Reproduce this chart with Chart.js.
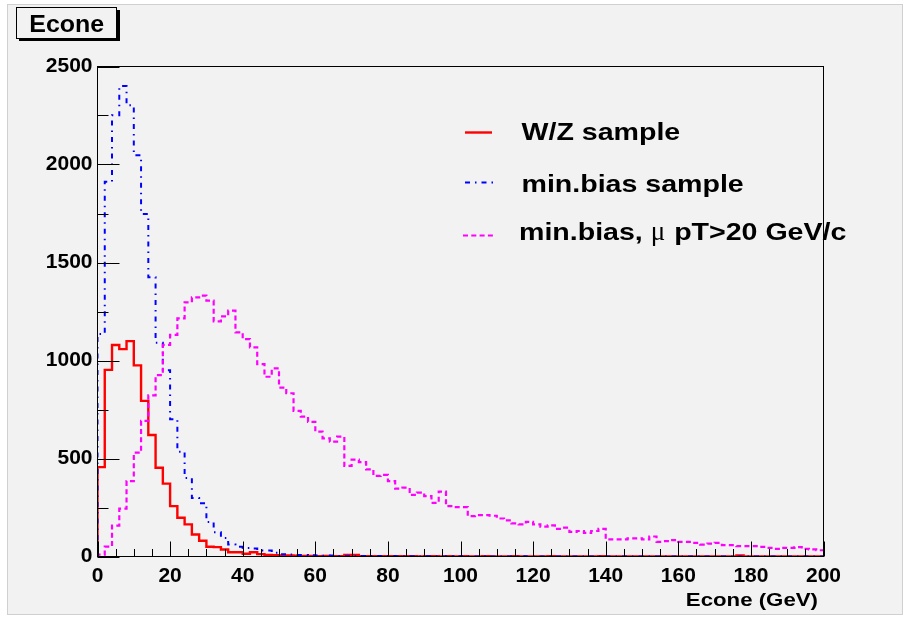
<!DOCTYPE html>
<html><head><meta charset="utf-8">
<script src="https://cdn.jsdelivr.net/npm/chart.js@4.4.1/dist/chart.umd.min.js"></script>
<style>html,body{margin:0;padding:0;background:#fff;}canvas{display:block;}</style>
</head><body>
<canvas id="c" width="906" height="618"></canvas>
<script>
// Bin lower edges (GeV), 2 GeV bins
const binLow = [0,2,4,6,8,10,12,14,16,18,20,22,24,26,28,30,32,34,36,38,
40,42,44,46,48,50,52,54,56,58,60,62,64,66,68,70,72,74,76,78,
80,82,84,86,88,90,92,94,96,98,100,102,104,106,108,110,112,114,116,118,
120,122,124,126,128,130,132,134,136,138,140,142,144,146,148,150,152,154,156,158,
160,162,164,166,168,170,172,174,176,178,180,182,184,186,188,190,192,194,196,198];
const xMaxEdge = 200;

const wzSample = [456,952,1079,1058,1099,975,794,620,453,372,
257,198,164,112,80,50,48,36,22,22,
14,22,12,8,6,5,5,4,3,3,
2,3,2,2,8,8,2,1,2,1,
1,2,1,1,0,1,1,0,1,0,
1,0,0,1,0,0,0,1,0,0,
0,0,1,0,0,0,0,0,0,1,
0,0,0,0,0,0,0,0,0,0,
0,0,0,0,0,0,0,0,5,0,
0,0,0,0,0,0,0,0,0,0];

const minBias = [1135,1912,2251,2400,2302,2047,1748,1425,1090,950,
700,535,400,298,272,176,124,95,61,50,
44,41,31,31,19,12,10,8,8,6,
5,4,5,3,3,2,3,2,2,1,
2,1,1,1,0,1,1,0,1,0,
1,0,0,1,0,0,0,0,1,0,
0,0,0,0,0,0,0,0,0,0,
0,0,0,0,0,0,0,0,0,0,
0,0,0,0,0,0,0,0,0,0,
0,0,0,0,0,0,0,0,0,0];

const minBiasMu = [10,50,158,244,385,530,692,822,925,1080,
1131,1215,1297,1322,1331,1305,1200,1225,1254,1144,
1109,1067,982,917,960,862,833,743,714,687,
637,603,586,612,462,494,482,445,411,416,
385,346,351,314,326,308,274,331,257,252,
252,206,211,211,208,194,184,169,164,177,
164,152,159,141,147,126,130,121,130,141,
87,87,87,92,92,87,102,75,78,84,
75,75,70,61,66,70,58,58,53,53,
53,49,44,39,44,44,48,39,36,32];

const xTicks = [0,20,40,60,80,100,120,140,160,180,200];
const yTicks = [0,500,1000,1500,2000,2500];

const seriesNames = ['W/Z sample','min.bias sample','min.bias, ','\u03bc',' pT>20 GeV/c'];

function steps(vals){
  const pts=[{x:binLow[0],y:0}];
  vals.forEach((v,i)=>pts.push({x:binLow[i],y:v}));
  pts.push({x:xMaxEdge,y:vals[vals.length-1]});
  return pts;
}

const BG='#f2f2f2';
const L=97.5,T=66.5,R=823.5,B=556.5;

function stretchText(ctx,txt,x,y,font,sx,align){
  ctx.save();ctx.font=font;ctx.translate(x,y);ctx.scale(sx,1);
  ctx.textAlign=align||'left';ctx.textBaseline='alphabetic';ctx.fillStyle='#000';
  ctx.fillText(txt,0,0);
  const w=ctx.measureText(txt).width*sx;ctx.restore();return w;
}

const rootPlugin={
  id:'rootStyle',
  beforeDraw(chart){
    const ctx=chart.ctx;
    ctx.save();
    ctx.fillStyle='#ffffff';ctx.fillRect(0,0,906,618);
    ctx.fillStyle=BG;ctx.fillRect(7,4,896,611);
    ctx.strokeStyle='#d0d0d0';ctx.lineWidth=1;ctx.strokeRect(7.5,4.5,895,610);
    ctx.restore();
  },
  afterDatasetsDraw(chart){
    const ctx=chart.ctx, xs=chart.scales.x, ys=chart.scales.y;
    const a=chart.chartArea;
    ctx.save();
    ctx.strokeStyle='#000';ctx.lineWidth=1;
    ctx.strokeRect(a.left,a.top,a.right-a.left,a.bottom-a.top);
    ctx.beginPath();
    for(let i=0;i<yTicks.length;i++){
      const p=Math.round(ys.getPixelForValue(yTicks[i]))+0.5;
      ctx.moveTo(a.left,p);ctx.lineTo(a.left+22,p);
      if(i<yTicks.length-1){
        const m=Math.round(ys.getPixelForValue((yTicks[i]+yTicks[i+1])/2))+0.5;
        ctx.moveTo(a.left,m);ctx.lineTo(a.left+11,m);
      }
    }
    for(let i=0;i<xTicks.length;i++){
      const p=Math.round(xs.getPixelForValue(xTicks[i]))+0.5;
      ctx.moveTo(p,a.bottom);ctx.lineTo(p,a.bottom-15);
      if(i<xTicks.length-1){
        for(let k=1;k<4;k++){
          const m=Math.round(xs.getPixelForValue(xTicks[i]+(xTicks[i+1]-xTicks[i])*k/4))+0.5;
          ctx.moveTo(m,a.bottom);ctx.lineTo(m,a.bottom-7.5);
        }
      }
    }
    ctx.stroke();
    ctx.restore();
  },
  afterDraw(chart){
    const ctx=chart.ctx;
    ctx.save();
    ctx.fillStyle='#000';
    ctx.fillRect(19,38,101,3);
    ctx.fillRect(117,10,3,31);
    ctx.fillStyle=BG;ctx.fillRect(16.5,7.5,100,31);
    ctx.strokeStyle='#000';ctx.lineWidth=1;ctx.strokeRect(16.5,7.5,100,31);
    stretchText(ctx,'Econe',66.7,32,'bold 24px "Liberation Sans"',1.04,'center');
    stretchText(ctx,'Econe (GeV)',818,605.5,'bold 19px "Liberation Sans"',1.17,'right');
    const ds=chart.data.datasets;
    const entries=[{y:132.5,x0:465,x1:492,ds:ds[0]},{y:182.5,x0:465,x1:496,ds:ds[1]},{y:235.5,x0:463,x1:494,ds:ds[2]}];
    entries.forEach(e=>{
      ctx.save();ctx.strokeStyle=e.ds.borderColor;ctx.lineWidth=e.ds.borderWidth;
      ctx.setLineDash(e.ds.borderDash||[]);
      ctx.beginPath();ctx.moveTo(e.x0,e.y);ctx.lineTo(e.x1,e.y);ctx.stroke();ctx.restore();
    });
    const F='bold 24px "Liberation Sans"', SX=1.19;
    stretchText(ctx,seriesNames[0],521.5,140,F,SX);
    stretchText(ctx,seriesNames[1],521.5,191.5,F,SX);
    let x=519;
    x+=stretchText(ctx,seriesNames[2],x,239.5,F,SX);
    x+=stretchText(ctx,seriesNames[3],x,239.5,'27px "Liberation Serif"',1.0)+1;
    stretchText(ctx,seriesNames[4],x,239.5,F,SX);
    ctx.restore();
  }
};

const tickFont={family:'"Liberation Sans"',size:21,weight:'bold'};

new Chart(document.getElementById('c'),{
  type:'line',
  data:{datasets:[
    {label:seriesNames[0],data:steps(wzSample),stepped:'before',borderColor:'#ff0000',borderWidth:2.4,pointRadius:0,fill:false,order:3},
    {label:seriesNames[1],data:steps(minBias),stepped:'before',borderColor:'#0000ff',borderWidth:2,borderDash:[5,5,1.5,5],pointRadius:0,fill:false,order:2},
    {label:'min.bias, \u03bc pT>20 GeV/c',data:steps(minBiasMu),stepped:'before',borderColor:'#ff00ff',borderWidth:2.2,borderDash:[5,3.3],pointRadius:0,fill:false,order:1}
  ]},
  options:{
    responsive:false,animation:false,events:[],
    layout:{padding:{left:0,top:T,right:906-R,bottom:0}},
    plugins:{legend:{display:false},tooltip:{enabled:false},title:{display:false}},
    scales:{
      x:{type:'linear',min:0,max:xMaxEdge,
        afterBuildTicks:s=>{s.ticks=xTicks.map(v=>({value:v}));},
        afterFit:s=>{s.height=618-B;},
        ticks:{font:tickFont,color:'#000',padding:7,maxRotation:0,autoSkip:false,callback:v=>String(v)},
        grid:{display:false,drawTicks:false},border:{display:false}},
      y:{type:'linear',min:0,max:2500,
        afterBuildTicks:s=>{s.ticks=yTicks.map(v=>({value:v}));},
        afterFit:s=>{s.width=L;},
        ticks:{font:tickFont,color:'#000',padding:5,callback:v=>String(v)},
        grid:{display:false,drawTicks:false},border:{display:false}}
    }
  },
  plugins:[rootPlugin]
});
</script>
</body></html>
